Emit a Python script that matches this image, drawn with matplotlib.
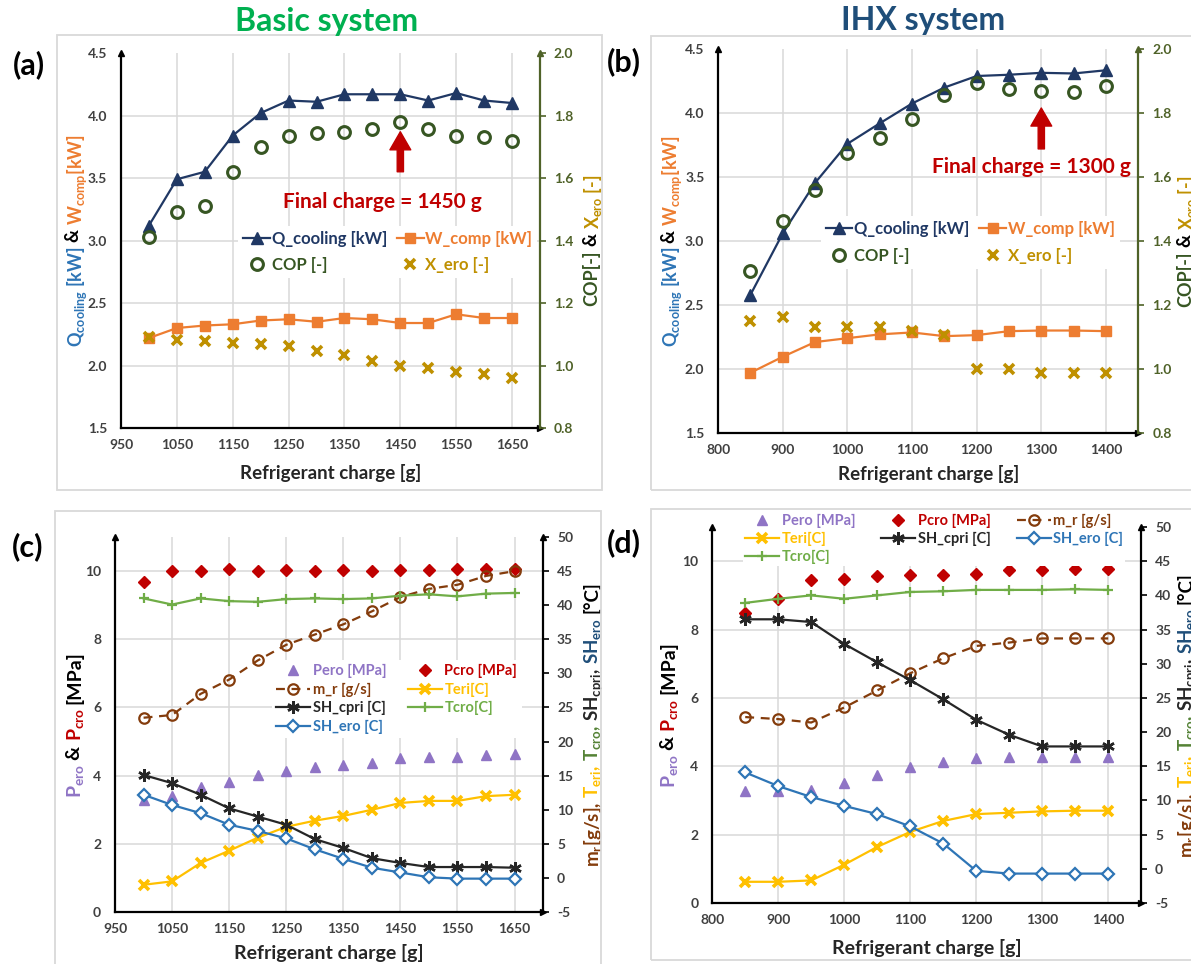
import matplotlib.pyplot as plt
from matplotlib.patches import Rectangle

plt.rcParams['font.family'] = ['Lato', 'DejaVu Sans']
plt.rcParams['font.weight'] = 'bold'
plt.rcParams['mathtext.default'] = 'regular'

# (a) basic system - performance
charge_basic = [1000, 1050, 1100, 1150, 1200, 1250, 1300, 1350, 1400, 1450, 1500, 1550, 1600, 1650]
q_cool_basic = [3.12, 3.49, 3.55, 3.84, 4.02, 4.12, 4.11, 4.17, 4.17, 4.17, 4.12, 4.18, 4.12, 4.10]
w_comp_basic = [2.22, 2.30, 2.32, 2.33, 2.36, 2.37, 2.35, 2.38, 2.37, 2.34, 2.34, 2.41, 2.38, 2.38]
cop_basic = [1.41, 1.49, 1.51, 1.62, 1.70, 1.735, 1.744, 1.748, 1.756, 1.779, 1.758, 1.735, 1.73, 1.718]
x_ero_basic = [1.092, 1.083, 1.079, 1.072, 1.068, 1.062, 1.046, 1.033, 1.014, 0.999, 0.992, 0.98, 0.972, 0.96]

# (b) IHX system - performance
charge_ihx = [850, 900, 950, 1000, 1050, 1100, 1150, 1200, 1250, 1300, 1350, 1400]
q_cool_ihx = [2.58, 3.06, 3.455, 3.76, 3.92, 4.075, 4.20, 4.29, 4.30, 4.315, 4.31, 4.335]
w_comp_ihx = [1.97, 2.095, 2.21, 2.24, 2.27, 2.285, 2.256, 2.264, 2.295, 2.30, 2.30, 2.295]
cop_ihx = [1.307, 1.462, 1.559, 1.674, 1.723, 1.781, 1.856, 1.895, 1.874, 1.869, 1.866, 1.885]
x_ero_ihx = [1.149, 1.161, 1.132, 1.13, 1.13, 1.119, 1.105, 0.999, 0.999, 0.988, 0.988, 0.988]

# (c) basic system - pressures / temperatures
p_ero_basic = [3.29, 3.40, 3.66, 3.80, 4.02, 4.15, 4.24, 4.31, 4.38, 4.51, 4.56, 4.56, 4.60, 4.63]
p_cro_basic = [9.68, 10.0, 9.99, 10.05, 9.99, 10.02, 10.0, 10.04, 10.0, 10.02, 10.02, 10.05, 10.06, 10.07]
m_r_basic = [23.5, 23.9, 27.0, 29.1, 31.9, 34.2, 35.7, 37.2, 39.1, 41.2, 42.4, 43.0, 44.3, 45.0]
t_eri_basic = [-1.0, -0.5, 2.2, 4.0, 5.9, 7.5, 8.4, 9.1, 10.0, 11.0, 11.3, 11.3, 12.0, 12.2]
sh_cpri_basic = [15.1, 13.9, 12.2, 10.2, 9.0, 7.8, 5.7, 4.4, 2.9, 2.2, 1.6, 1.6, 1.6, 1.5]
sh_ero_basic = [12.2, 10.7, 9.5, 7.8, 6.9, 5.8, 4.2, 2.8, 1.5, 0.8, 0.1, -0.1, -0.1, -0.1]
t_cro_basic = [41.0, 40.1, 41.0, 40.6, 40.5, 40.9, 41.0, 40.9, 41.0, 41.4, 41.6, 41.3, 41.7, 41.8]

# (d) IHX system - pressures / temperatures
p_ero_ihx = [3.28, 3.28, 3.30, 3.52, 3.74, 3.97, 4.13, 4.25, 4.26, 4.28, 4.28, 4.28]
p_cro_ihx = [8.47, 8.90, 9.44, 9.49, 9.56, 9.59, 9.59, 9.63, 9.73, 9.74, 9.76, 9.76]
m_r_ihx = [22.2, 21.9, 21.4, 23.6, 26.1, 28.6, 30.8, 32.6, 33.1, 33.7, 33.7, 33.7]
t_eri_ihx = [-1.9, -1.9, -1.7, 0.6, 3.2, 5.4, 7.0, 8.0, 8.2, 8.4, 8.5, 8.5]
sh_cpri_ihx = [36.5, 36.5, 36.1, 32.9, 30.2, 27.6, 24.8, 21.8, 19.6, 17.9, 17.9, 17.9]
sh_ero_ihx = [14.1, 12.1, 10.5, 9.2, 8.0, 6.2, 3.7, -0.3, -0.7, -0.7, -0.7, -0.7]
t_cro_ihx = [38.9, 39.5, 40.0, 39.5, 40.0, 40.5, 40.6, 40.8, 40.8, 40.8, 40.9, 40.8]

final_basic = 1450
final_ihx = 1300

# colours
NAVY = '#203864'
ORANGE = '#ed7d31'
DKGREEN = '#375623'
OLIVE = '#4f6228'
GOLD = '#bf9000'
PURPLE = '#8f74c5'
RED = '#c00000'
BROWN = '#843c0c'
YELLOW = '#ffc000'
BLACKISH = '#262626'
LGREEN = '#70ad47'
BLUE = '#2e75b6'
GRID = '#d9d9d9'
TICK = '#404040'

fig = plt.figure(figsize=(11.91, 9.64), dpi=100)

# light grey panel frames
for r in [(0.0479, 0.4917, 0.4576, 0.472), (0.5466, 0.4917, 0.47, 0.471),
          (0.0462, -0.02, 0.4584, 0.4901), (0.5466, 0.00415, 0.47, 0.4678)]:
    fig.add_artist(Rectangle(r[:2], r[2], r[3], transform=fig.transFigure,
                             fill=False, edgecolor=GRID, lw=1.3))


def make_panel(rect, xlim, xticks, ylim, yticks, ylim2, yticks2, fmt, rcolor, rlabel):
    ax = fig.add_axes(rect)
    ax2 = ax.twinx()
    ax.set_xlim(xlim)
    ax.set_xticks(xticks)
    ax.set_ylim(ylim)
    ax.set_yticks(yticks)
    ax.set_yticklabels([fmt % v for v in yticks])
    ax2.set_ylim(ylim2)
    ax2.set_yticks(yticks2)
    ax2.set_yticklabels([fmt % v for v in yticks2])
    ax.grid(True, color=GRID, lw=1.1)
    ax.set_axisbelow(True)
    for g in ax.yaxis.get_gridlines():
        if abs(g.get_ydata()[0] - ylim[1]) < 1e-6:
            g.set_visible(False)
    ax.tick_params(axis='both', length=0, labelsize=10, labelcolor=TICK)
    ax.tick_params(axis='x', pad=8)
    ax.tick_params(axis='y', pad=10)
    ax2.tick_params(axis='y', direction='out', length=4, width=1.2, color=rcolor,
                    labelcolor=rlabel, labelsize=10, pad=6)
    for s in ['top', 'right']:
        ax.spines[s].set_visible(False)
    for s in ['top', 'left', 'bottom']:
        ax2.spines[s].set_visible(False)
    ax.spines['left'].set_linewidth(1.6)
    ax.spines['bottom'].set_linewidth(1.6)
    ax2.spines['right'].set_color(rcolor)
    ax2.spines['right'].set_linewidth(1.6)
    # arrow heads on the axis lines
    ax.plot(0, 1, '^', transform=ax.transAxes, clip_on=False, color='k', ms=5)
    ax.plot(1, 0, '>', transform=ax.transAxes, clip_on=False, color='k', ms=5)
    ax2.plot(1, 1, '^', transform=ax2.transAxes, clip_on=False, color=rcolor, ms=5)
    return ax, ax2


def stacked_label(ax, x, parts, size):
    texts = []
    prev = ax.text(x, 0.5, parts[0][0], color=parts[0][1], rotation=90, ha='left',
                   va='bottom', fontsize=size, transform=ax.transAxes)
    texts.append(prev)
    for s, c in parts[1:]:
        prev = ax.annotate(s, xy=(0, 1), xycoords=prev, xytext=(0, 3),
                           textcoords='offset points', color=c, rotation=90,
                           ha='left', va='bottom', fontsize=size)
        texts.append(prev)
    return texts


def color_legend(leg, colors):
    for t, c in zip(leg.get_texts(), colors):
        t.set_color(c)


labels_to_center = []

# ---------------- (a) ----------------
axa, axa2 = make_panel([0.1016, 0.556, 0.3518, 0.389], (950, 1700), range(950, 1651, 100),
                       (1.5, 4.5), [1.5, 2.0, 2.5, 3.0, 3.5, 4.0, 4.5],
                       (0.8, 2.0), [0.8, 1.0, 1.2, 1.4, 1.6, 1.8, 2.0], '%.1f', OLIVE, OLIVE)
la1, = axa.plot(charge_basic, q_cool_basic, '-^', color=NAVY, lw=1.6, ms=8)
la2, = axa.plot(charge_basic, w_comp_basic, '-s', color=ORANGE, lw=1.6, ms=7.5)
la3, = axa2.plot(charge_basic, cop_basic, 'o', color=DKGREEN, mfc='none', mew=2.2, ms=8.5)
la4, = axa2.plot(charge_basic, x_ero_basic, 'x', color=GOLD, mew=2.6, ms=7.5)
axa.annotate('', xy=(final_basic, 3.87), xytext=(final_basic, 3.55),
             arrowprops=dict(width=4.5, headwidth=15, headlength=13, color=RED, shrink=0))
axa.text(0.623, 0.603, 'Final charge = %d g' % final_basic, transform=axa.transAxes,
         ha='center', va='center', color=RED, fontsize=15)
leg = axa2.legend([la1, la3, la2, la4], ['Q_cooling [kW]', 'COP [-]', 'W_comp [kW]', 'X_ero [-]'],
                  ncol=2, loc='upper left', bbox_to_anchor=(0.193, 0.774),
                  bbox_transform=fig.transFigure, fontsize=12, frameon=True, facecolor='white',
                  edgecolor='none', framealpha=1, fancybox=False, handlelength=1.6,
                  handletextpad=0.1, columnspacing=0.6, labelspacing=0.6, borderpad=0.3)
color_legend(leg, [NAVY, DKGREEN, ORANGE, GOLD])
axa.text(0.5, -0.12, 'Refrigerant charge [g]', transform=axa.transAxes, ha='center',
         va='center', fontsize=13.5, color='#262626')
labels_to_center.append((axa, stacked_label(axa, -0.134, [
    ('Q$_{cooling}$ [kW]', BLUE), ('&', 'black'), ('W$_{comp}$[kW]', ORANGE)], 13)))
labels_to_center.append((axa, stacked_label(axa, 1.100, [
    ('COP[-]', DKGREEN), ('&', 'black'), ('X$_{ero}$ [-]', GOLD)], 13)))

# ---------------- (b) ----------------
axb, axb2 = make_panel([0.603, 0.551, 0.3527, 0.398], (800, 1450), range(800, 1401, 100),
                       (1.5, 4.5), [1.5, 2.0, 2.5, 3.0, 3.5, 4.0, 4.5],
                       (0.8, 2.0), [0.8, 1.0, 1.2, 1.4, 1.6, 1.8, 2.0], '%.1f', OLIVE, OLIVE)
lb1, = axb.plot(charge_ihx, q_cool_ihx, '-^', color=NAVY, lw=1.6, ms=8)
lb2, = axb.plot(charge_ihx, w_comp_ihx, '-s', color=ORANGE, lw=1.6, ms=7.5)
lb3, = axb2.plot(charge_ihx, cop_ihx, 'o', color=DKGREEN, mfc='none', mew=2.2, ms=8.5)
lb4, = axb2.plot(charge_ihx, x_ero_ihx, 'x', color=GOLD, mew=2.6, ms=7.5)
axb.annotate('', xy=(final_ihx, 4.04), xytext=(final_ihx, 3.72),
             arrowprops=dict(width=4.5, headwidth=15, headlength=13, color=RED, shrink=0))
axb.text(0.745, 0.693, 'Final charge = %d g' % final_ihx, transform=axb.transAxes,
         ha='center', va='center', color=RED, fontsize=15)
leg = axb2.legend([lb1, lb3, lb2, lb4], ['Q_cooling [kW]', 'COP [-]', 'W_comp [kW]', 'X_ero [-]'],
                  ncol=2, loc='upper left', bbox_to_anchor=(0.682, 0.785),
                  bbox_transform=fig.transFigure, fontsize=12, frameon=True, facecolor='white',
                  edgecolor='none', framealpha=1, fancybox=False, handlelength=1.6,
                  handletextpad=0.1, columnspacing=0.6, labelspacing=0.7, borderpad=0.3)
color_legend(leg, [NAVY, DKGREEN, ORANGE, GOLD])
axb.text(0.5, -0.107, 'Refrigerant charge [g]', transform=axb.transAxes, ha='center',
         va='center', fontsize=13.5, color='#262626')
labels_to_center.append((axb, stacked_label(axb, -0.138, [
    ('Q$_{cooling}$ [kW]', BLUE), ('&', 'black'), ('W$_{comp}$[kW]', ORANGE)], 13)))
labels_to_center.append((axb, stacked_label(axb, 1.09, [
    ('COP[-]', DKGREEN), ('&', 'black'), ('X$_{ero}$ [-]', GOLD)], 13)))


def pressure_panel(rect, xlim, xticks, charge, p_ero, p_cro, m_r, t_eri, sh_cpri, sh_ero, t_cro):
    ax, ax2 = make_panel(rect, xlim, xticks, (0, 11), [0, 2, 4, 6, 8, 10],
                         (-5, 50), list(range(-5, 51, 5)), '%d', 'black', TICK)
    h1, = ax.plot(charge, p_ero, '^', color=PURPLE, ms=7.5, ls='none')
    h2, = ax.plot(charge, p_cro, 'D', color=RED, ms=6, ls='none')
    h3, = ax2.plot(charge, m_r, '--o', color=BROWN, lw=1.6, mfc='none', mew=1.6, ms=7.5,
                   dashes=(4, 3))
    h4, = ax2.plot(charge, t_eri, '-x', color=YELLOW, lw=1.6, mew=2.6, ms=7.5)
    h5, = ax2.plot(charge, sh_cpri, '-', marker=(6, 2, 0), color=BLACKISH, lw=1.6, mew=1.8, ms=9)
    h6, = ax2.plot(charge, sh_ero, '-D', color=BLUE, lw=1.6, mfc='white', mew=1.6, ms=6)
    h7, = ax2.plot(charge, t_cro, '-+', color=LGREEN, lw=1.6, mew=1.6, ms=7)
    return ax, ax2, [h1, h2, h3, h4, h5, h6, h7]


names = ['Pero [MPa]', 'Pcro [MPa]', 'm_r [g/s]', 'Teri[C]', 'SH_cpri [C]', 'SH_ero [C]', 'Tcro[C]']
cols = [PURPLE, RED, BROWN, YELLOW, BLACKISH, BLUE, LGREEN]

# ---------------- (c) ----------------
axc, axc2, hc = pressure_panel([0.0966, 0.0539, 0.3594, 0.389], (950, 1700), range(950, 1651, 100),
                               charge_basic, p_ero_basic, p_cro_basic, m_r_basic, t_eri_basic,
                               sh_cpri_basic, sh_ero_basic, t_cro_basic)
order = [0, 2, 4, 5, 1, 3, 6]
leg = axc2.legend([hc[i] for i in order], [names[i] for i in order], ncol=2, loc='upper left',
                  bbox_to_anchor=(0.222, 0.323), bbox_transform=fig.transFigure, fontsize=10.5,
                  frameon=True, facecolor='white', edgecolor='none', framealpha=1, fancybox=False,
                  handlelength=2.3, handletextpad=0.2, columnspacing=1.5, labelspacing=0.3,
                  borderpad=0.3)
color_legend(leg, [cols[i] for i in order])
axc.text(0.5, -0.109, 'Refrigerant charge [g]', transform=axc.transAxes, ha='center',
         va='center', fontsize=14, color='#262626')
labels_to_center.append((axc, stacked_label(axc, -0.117, [
    ('P$_{ero}$', PURPLE), ('&', 'black'), ('P$_{cro}$', RED), ('[MPa]', 'black')], 14)))
labels_to_center.append((axc, stacked_label(axc, 1.091, [
    ('m$_r$[g/s],', BROWN), ('T$_{eri}$,', YELLOW), ('T$_{cro}$,', '#548235'),
    ('SH$_{cpri}$,', BLACKISH), ('SH$_{ero}$', '#1f4e79'), ('[°C]', 'black')], 13.5)))

# ---------------- (d) ----------------
axd, axd2, hd = pressure_panel([0.598, 0.0633, 0.3602, 0.39], (800, 1450), range(800, 1401, 100),
                               charge_ihx, p_ero_ihx, p_cro_ihx, m_r_ihx, t_eri_ihx,
                               sh_cpri_ihx, sh_ero_ihx, t_cro_ihx)
order = [0, 3, 6, 1, 4, 2, 5]
leg = axd2.legend([hd[i] for i in order], [names[i] for i in order], ncol=3, loc='upper left',
                  bbox_to_anchor=(0.618, 0.476), bbox_transform=fig.transFigure, fontsize=10.5,
                  frameon=True, facecolor='white', edgecolor='none', framealpha=1, fancybox=False,
                  handlelength=2.3, handletextpad=0.2, columnspacing=1.8,
                  labelspacing=0.25, borderpad=0.12)
color_legend(leg, [cols[i] for i in order])
axd.text(0.5, -0.12, 'Refrigerant charge [g]', transform=axd.transAxes, ha='center',
         va='center', fontsize=14, color='#262626')
labels_to_center.append((axd, stacked_label(axd, -0.124, [
    ('P$_{ero}$', PURPLE), ('&', 'black'), ('P$_{cro}$', RED), ('[MPa]', 'black')], 14)))
labels_to_center.append((axd, stacked_label(axd, 1.082, [
    ('m$_r$[g/s],', BROWN), ('T$_{eri}$,', YELLOW), ('T$_{cro}$,', '#548235'),
    ('SH$_{cpri}$,', BLACKISH), ('SH$_{ero}$', '#1f4e79'), ('[°C]', 'black')], 13.5)))

# titles and panel letters
fig.text(0.2746, 0.978, 'Basic system', ha='center', va='center', fontsize=23, color='#00b050')
fig.text(0.775, 0.979, 'IHX system', ha='center', va='center', fontsize=23, color='#1f4e79')
for lab, x, y in [('(a)', 29, 65), ('(b)', 624, 62), ('(c)', 28, 547), ('(d)', 624, 543)]:
    fig.text(x / 1191, 1 - y / 964, lab, ha='center', va='center', fontsize=22, color='black')

# centre the multi-colour axis labels on their axes
fig.canvas.draw()
for ax, texts in labels_to_center:
    bb0 = texts[0].get_window_extent()
    bb1 = texts[-1].get_window_extent()
    h = bb1.y1 - bb0.y0
    abb = ax.get_window_extent()
    y0 = (abb.y0 + abb.height / 2 - h / 2 - abb.y0) / abb.height
    texts[0].set_y(y0)

fig.savefig('out.png', dpi=100)
